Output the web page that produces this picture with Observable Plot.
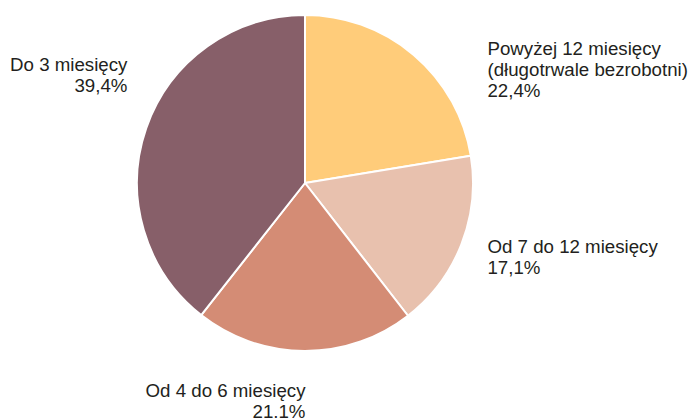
<!DOCTYPE html>
<html>
<head>
<meta charset="utf-8">
<script src="https://cdn.jsdelivr.net/npm/d3@7"></script>
<script src="https://cdn.jsdelivr.net/npm/@observablehq/plot@0.6"></script>
<style>
  html, body { margin: 0; padding: 0; background: #fff; }
  #chart svg { display: block; }
</style>
</head>
<body>
<div id="chart"></div>
<script>
const categories = ["Powyżej 12 miesięcy\n(długotrwale bezrobotni)", "Od 7 do 12 miesięcy", "Od 4 do 6 miesięcy", "Do 3 miesięcy"];
const values = [22.4, 17.1, 21.1, 39.4];
const valueLabels = ["22,4%", "17,1%", "21,1%", "39,4%"];
const colors = ["#FFCC7A", "#E8C1AE", "#D48C75", "#875F69"];

const data = categories.map((c, i) => ({category: c, value: values[i], label: valueLabels[i], color: colors[i]}));
const pie = d3.pie().sort(null).value(d => d.value)(data);

// label layout (data units, center of pie = 0,0, radius = 1)
const labelLayout = [
  {x: 1.083, y: 0.679, anchor: "start"},
  {x: 1.083, y: -0.435, anchor: "start"},
  {x: 0.0, y: -1.292, anchor: "end"},
  {x: -1.06, y: 0.649, anchor: "end"}
];
const labels = data.map((d, i) => ({text: d.category + "\n" + d.label, ...labelLayout[i]}));

function pieMark(index, scales) {
  const cx = scales.x(0), cy = scales.y(0);
  const r = scales.x(1) - scales.x(0);
  const arc = d3.arc().innerRadius(0).outerRadius(r);
  const g = d3.create("svg:g").attr("transform", `translate(${cx},${cy})`);
  g.selectAll("path").data(pie).join("path")
    .attr("d", arc)
    .attr("fill", d => d.data.color)
    .attr("stroke", "#fff")
    .attr("stroke-width", 2)
    .attr("stroke-linejoin", "round");
  return g.node();
}

const textOpts = {x: "x", y: "y", text: "text", lineAnchor: "middle", lineHeight: 1.12, fontSize: 18.7, fill: "#231f20"};

const chart = Plot.plot({
  width: 690,
  height: 418,
  margin: 0,
  style: {fontFamily: "'Liberation Sans', Arial, sans-serif", background: "#fff"},
  x: {domain: [-1, 1], range: [305 - 168, 305 + 168], axis: null},
  y: {domain: [-1, 1], range: [183 + 168, 183 - 168], axis: null},
  marks: [
    pieMark,
    Plot.text(labels.filter(d => d.anchor === "start"), {...textOpts, textAnchor: "start"}),
    Plot.text(labels.filter(d => d.anchor === "end"), {...textOpts, textAnchor: "end"})
  ]
});
document.getElementById("chart").appendChild(chart);
</script>
</body>
</html>
